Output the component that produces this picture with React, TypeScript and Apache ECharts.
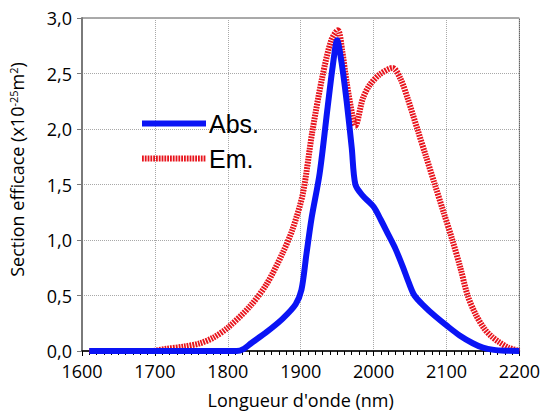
import React, { useEffect, useRef } from "react";
import * as echarts from "echarts";

const absWavelengths = [1610, 1812, 1822, 1832, 1853, 1875, 1893, 1901, 1908, 1915, 1926, 1937, 1944, 1950, 1956, 1963, 1970, 1975, 1985, 2000, 2010, 2020, 2030, 2040, 2048, 2056, 2070, 2085, 2100, 2118, 2136, 2150, 2165, 2180, 2200];
const absValues = [0, 0, 0.02, 0.07, 0.17, 0.29, 0.42, 0.55, 0.88, 1.2, 1.6, 2.2, 2.57, 2.8, 2.6, 2.25, 1.83, 1.5, 1.4, 1.3, 1.18, 1.05, 0.92, 0.76, 0.62, 0.5, 0.4, 0.31, 0.23, 0.14, 0.07, 0.03, 0.01, 0.003, 0];

const emWavelengths = [1610, 1695, 1716, 1740, 1762, 1780, 1800, 1830, 1853, 1875, 1889, 1903, 1916, 1930, 1942, 1951, 1957, 1963, 1971, 1975, 1985, 1994, 2008, 2026, 2037, 2047, 2060, 2072, 2084, 2096, 2108, 2119, 2129, 2140, 2152, 2162, 2172, 2185, 2200];
const emValues = [0, 0, 0.02, 0.04, 0.07, 0.12, 0.21, 0.4, 0.6, 0.88, 1.1, 1.42, 1.98, 2.48, 2.8, 2.89, 2.7, 2.42, 2.12, 2.03, 2.27, 2.39, 2.49, 2.55, 2.45, 2.27, 2.0, 1.75, 1.5, 1.25, 1.0, 0.75, 0.5, 0.33, 0.2, 0.13, 0.08, 0.03, 0];

const seriesNames = ["Abs.", "Em."];
const xTitle = "Longueur d'onde (nm)";

export default function App() {
  const ref = useRef<HTMLDivElement>(null);
  useEffect(() => {
    if (!ref.current) return;
    const chart = echarts.init(ref.current, null, { renderer: "svg" });
    const font = "'Open Sans', 'Noto Sans', sans-serif";
    chart.setOption({
      animation: false,
      backgroundColor: "#ffffff",
      grid: {
        left: 82,
        right: 23,
        top: 18,
        bottom: 58,
        show: true,
        borderColor: "#555555",
        borderWidth: 1,
      },
      legend: {
        orient: "vertical",
        left: 134,
        top: 106,
        itemWidth: 64,
        itemHeight: 25,
        itemGap: 10,
        data: seriesNames,
        itemStyle: { color: "transparent", borderWidth: 0, opacity: 0 },
        lineStyle: { width: 6 },
        textStyle: {
          fontFamily: "'Liberation Sans', Arial, sans-serif",
          fontSize: 25,
          color: "#000000",
          padding: [0, 0, 0, -2],
        },
      },
      xAxis: {
        type: "value",
        min: 1600,
        max: 2200,
        interval: 100,
        name: xTitle,
        nameLocation: "middle",
        nameGap: 40,
        nameTextStyle: { fontFamily: font, fontSize: 18, color: "#000" },
        axisLine: { lineStyle: { color: "#000", width: 1.5 } },
        axisTick: { show: true, length: 5, lineStyle: { color: "#000" } },
        minorTick: { show: true, splitNumber: 10, length: 4, lineStyle: { color: "#000" } },
        axisLabel: {
          fontFamily: font,
          fontSize: 18,
          color: "#000",
          margin: 11,
          formatter: (v: number) => String(v),
        },
        splitLine: { show: true, lineStyle: { color: "#a8a8a8", type: "dotted", width: 1 } },
      },
      yAxis: {
        type: "value",
        min: 0,
        max: 3,
        interval: 0.5,
        name: "Section efficace (x10{sup|-25}m{sup|2})",
        nameLocation: "middle",
        nameGap: 56,
        nameTextStyle: {
          fontFamily: font,
          fontSize: 18,
          color: "#000",
          padding: [0, 0, 0, 30],
          rich: {
            sup: { fontFamily: font, fontSize: 11, verticalAlign: "top", lineHeight: 12, color: "#000" },
          },
        },
        axisLine: { show: true, lineStyle: { color: "#7a7a7a", width: 2 } },
        axisTick: { show: true, length: 5, lineStyle: { color: "#7a7a7a" } },
        axisLabel: {
          fontFamily: font,
          fontSize: 18,
          color: "#000",
          margin: 10,
          verticalAlign: "middle",
          formatter: (v: number) => v.toFixed(1).replace(".", ","),
        },
        splitLine: { show: true, lineStyle: { color: "#a8a8a8", type: "dotted", width: 1 } },
      },
      series: [
        {
          name: seriesNames[0],
          type: "line",
          symbol: "none",
          smooth: 0.3,
          data: absWavelengths.map((x, i) => [x, absValues[i]]),
          lineStyle: { color: "#0a14f5", width: 6 },
          itemStyle: { color: "#0a14f5" },
          z: 3,
        },
        {
          name: seriesNames[1],
          type: "line",
          symbol: "none",
          smooth: 0.3,
          data: emWavelengths.map((x, i) => [x, emValues[i]]),
          lineStyle: { color: "#e8141c", width: 6, type: [1.8, 1] },
          itemStyle: { color: "#e8141c" },
          z: 2,
        },
      ],
    });
    return () => chart.dispose();
  }, []);
  return <div ref={ref} style={{ width: 543, height: 414, position: "absolute", left: 0, top: 0 }} />;
}
